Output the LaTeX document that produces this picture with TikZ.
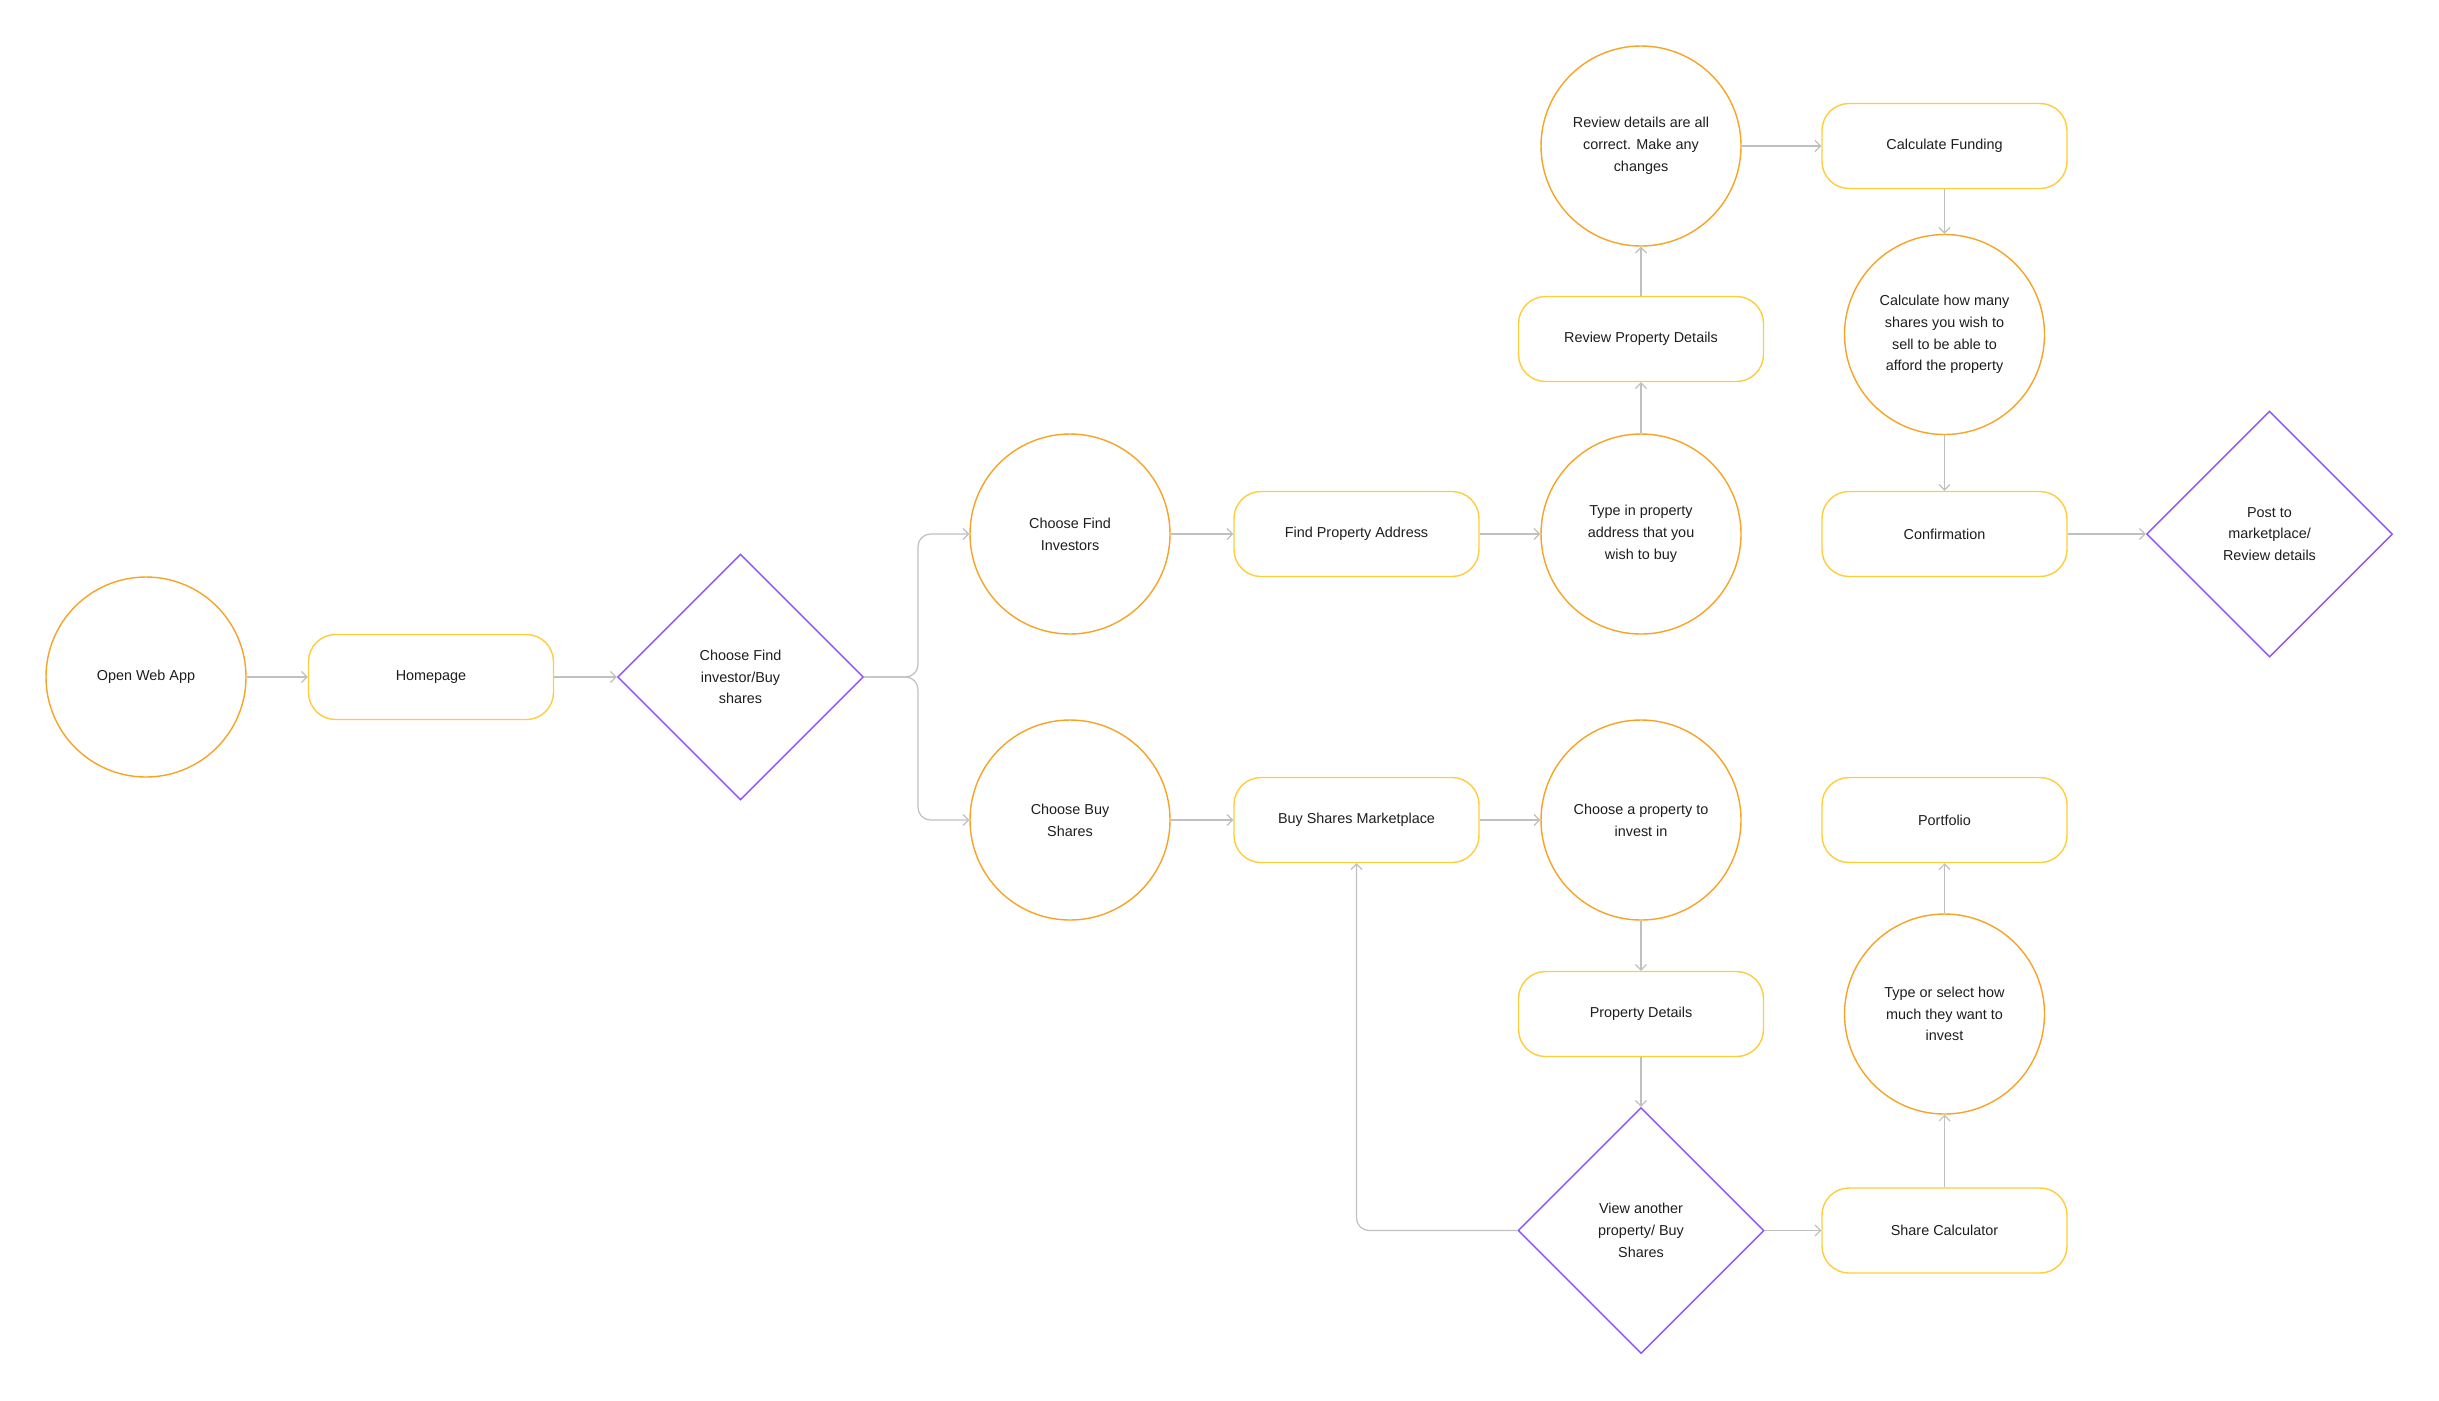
\documentclass[tikz,border=0pt]{standalone}
\usepackage{fontspec}
\setmainfont{Liberation Sans}
\usepackage{tikz}
\usetikzlibrary{positioning,arrows.meta,shapes.geometric}
\definecolor{corange}{RGB}{247,163,37}
\definecolor{cyellow}{RGB}{255,204,60}
\definecolor{cpurple}{RGB}{140,80,255}
\definecolor{cgray}{RGB}{192,192,192}
\definecolor{ctext}{RGB}{30,30,30}

\begin{document}
\begin{tikzpicture}[x=1mm,y=1mm,
  font=\fontsize{8.2}{12.4}\selectfont,text=ctext,
  c/.style={circle,draw=corange,line width=0.8pt,minimum size=40mm,inner sep=0,align=center},
  r/.style={rectangle,rounded corners=5.4mm,draw=cyellow,line width=0.8pt,minimum width=49mm,minimum height=17mm,align=center},
  d/.style={diamond,draw=cpurple,line width=0.8pt,minimum width=49.2mm,minimum height=49.2mm,inner sep=0,align=center},
  a/.style={-{Straight Barb[length=1.1mm,width=2.2mm]},cgray,line width=0.7pt,rounded corners=2.5mm},
]
\useasboundingbox (0,0) rectangle (487.8,-280);
% --- entry ---
\node[c] (open) at (29.2,-135.4) {Open Web App};
\node[r] (home) at (86.2,-135.4) {Homepage};
\node[d] (pick) at (148.1,-135.4) {Choose Find\\investor/Buy\\shares};
\draw[a] (open)--(home); \draw[a] (home)--(pick);
% --- find investors branch ---
\node[c] (inv) at (214,-106.8) {Choose Find\\Investors};
\node[r] (addr) at (271.3,-106.8) {Find Property Address};
\node[c] (type) at (328.2,-106.8) {Type in property\\address that you\\wish to buy};
\node[r] (revpd) at (328.2,-67.8) {Review Property Details};
\node[c] (revok) at (328.2,-29.2) {Review details are all\\correct. Make any\\changes};
\node[r] (fund) at (388.9,-29.2) {Calculate Funding};
\node[c] (howmany) at (388.9,-66.9) {Calculate how many\\shares you wish to\\sell to be able to\\afford the property};
\node[r] (conf) at (388.9,-106.8) {Confirmation};
\node[d] (post) at (453.9,-106.8) {Post to\\marketplace/\\Review details};
\draw[a] (pick.east) -- (183.6,-135.4) |- (inv.west);
\draw[a] (inv)--(addr); \draw[a] (addr)--(type); \draw[a] (type)--(revpd); \draw[a] (revpd)--(revok);
\draw[a] (revok)--(fund); \draw[a] (fund)--(howmany); \draw[a] (howmany)--(conf); \draw[a] (conf)--(post);
% --- buy shares branch ---
\node[c] (buy) at (214,-164) {Choose Buy\\Shares};
\node[r] (mkt) at (271.3,-164) {Buy Shares Marketplace};
\node[c] (prop) at (328.2,-164) {Choose a property to\\invest in};
\node[r] (pdet) at (328.2,-202.8) {Property Details};
\node[d] (again) at (328.2,-246.1) {View another\\property/ Buy\\Shares};
\node[r] (calc) at (388.9,-246.1) {Share Calculator};
\node[c] (amt) at (388.9,-202.8) {Type or select how\\much they want to\\invest};
\node[r] (port) at (388.9,-164) {Portfolio};
\draw[a] (pick.east) -- (183.6,-135.4) |- (buy.west);
\draw[a] (buy)--(mkt); \draw[a] (mkt)--(prop); \draw[a] (prop)--(pdet); \draw[a] (pdet)--(again);
\draw[a] (again)--(calc); \draw[a] (calc)--(amt); \draw[a] (amt)--(port);
\draw[a] (again.west) -| (mkt.south);
\end{tikzpicture}
\end{document}
